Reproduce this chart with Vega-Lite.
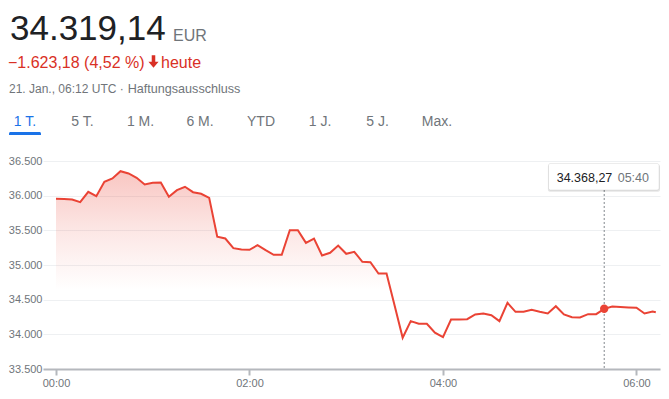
{
  "$schema": "https://vega.github.io/schema/vega-lite/v6.json",
  "width": 617,
  "height": 208,
  "autosize": {"type": "none"},
  "padding": {"left": 43, "top": 161, "right": 9, "bottom": 30},
  "background": "white",
  "config": {
    "locale": {"number": {"decimal": ",", "thousands": ".", "grouping": [3], "currency": ["", " €"]}},
    "view": {"stroke": null},
    "font": "Liberation Sans",
    "axis": {"labelOverlap": false},
    "axisY": {"labelOverlap": false},
    "axisQuantitative": {"labelOverlap": false}
  },
  "datasets": {
    "prices": [
      {"t": "2021-01-21T00:00:00Z", "v": 35955},
      {"t": "2021-01-21T00:05:00Z", "v": 35952},
      {"t": "2021-01-21T00:10:00Z", "v": 35945},
      {"t": "2021-01-21T00:15:00Z", "v": 35906},
      {"t": "2021-01-21T00:20:00Z", "v": 36056},
      {"t": "2021-01-21T00:25:00Z", "v": 35992},
      {"t": "2021-01-21T00:30:00Z", "v": 36200},
      {"t": "2021-01-21T00:35:00Z", "v": 36248},
      {"t": "2021-01-21T00:40:00Z", "v": 36353},
      {"t": "2021-01-21T00:45:00Z", "v": 36320},
      {"t": "2021-01-21T00:50:00Z", "v": 36258},
      {"t": "2021-01-21T00:55:00Z", "v": 36161},
      {"t": "2021-01-21T01:00:00Z", "v": 36186},
      {"t": "2021-01-21T01:05:00Z", "v": 36190},
      {"t": "2021-01-21T01:10:00Z", "v": 35984},
      {"t": "2021-01-21T01:15:00Z", "v": 36079},
      {"t": "2021-01-21T01:20:00Z", "v": 36128},
      {"t": "2021-01-21T01:25:00Z", "v": 36050},
      {"t": "2021-01-21T01:30:00Z", "v": 36027},
      {"t": "2021-01-21T01:35:00Z", "v": 35969},
      {"t": "2021-01-21T01:40:00Z", "v": 35407},
      {"t": "2021-01-21T01:45:00Z", "v": 35382},
      {"t": "2021-01-21T01:50:00Z", "v": 35243},
      {"t": "2021-01-21T01:55:00Z", "v": 35224},
      {"t": "2021-01-21T02:00:00Z", "v": 35219},
      {"t": "2021-01-21T02:05:00Z", "v": 35286},
      {"t": "2021-01-21T02:10:00Z", "v": 35214},
      {"t": "2021-01-21T02:15:00Z", "v": 35147},
      {"t": "2021-01-21T02:20:00Z", "v": 35147},
      {"t": "2021-01-21T02:25:00Z", "v": 35502},
      {"t": "2021-01-21T02:30:00Z", "v": 35502},
      {"t": "2021-01-21T02:35:00Z", "v": 35320},
      {"t": "2021-01-21T02:40:00Z", "v": 35382},
      {"t": "2021-01-21T02:45:00Z", "v": 35137},
      {"t": "2021-01-21T02:50:00Z", "v": 35176},
      {"t": "2021-01-21T02:55:00Z", "v": 35281},
      {"t": "2021-01-21T03:00:00Z", "v": 35162},
      {"t": "2021-01-21T03:05:00Z", "v": 35191},
      {"t": "2021-01-21T03:10:00Z", "v": 35046},
      {"t": "2021-01-21T03:15:00Z", "v": 35041},
      {"t": "2021-01-21T03:20:00Z", "v": 34878},
      {"t": "2021-01-21T03:25:00Z", "v": 34878},
      {"t": "2021-01-21T03:30:00Z", "v": 34416},
      {"t": "2021-01-21T03:35:00Z", "v": 33950},
      {"t": "2021-01-21T03:40:00Z", "v": 34190},
      {"t": "2021-01-21T03:45:00Z", "v": 34152},
      {"t": "2021-01-21T03:50:00Z", "v": 34152},
      {"t": "2021-01-21T03:55:00Z", "v": 34023},
      {"t": "2021-01-21T04:00:00Z", "v": 33959},
      {"t": "2021-01-21T04:05:00Z", "v": 34214},
      {"t": "2021-01-21T04:10:00Z", "v": 34214},
      {"t": "2021-01-21T04:15:00Z", "v": 34219},
      {"t": "2021-01-21T04:20:00Z", "v": 34287},
      {"t": "2021-01-21T04:25:00Z", "v": 34301},
      {"t": "2021-01-21T04:30:00Z", "v": 34276},
      {"t": "2021-01-21T04:35:00Z", "v": 34190},
      {"t": "2021-01-21T04:40:00Z", "v": 34455},
      {"t": "2021-01-21T04:45:00Z", "v": 34325},
      {"t": "2021-01-21T04:50:00Z", "v": 34325},
      {"t": "2021-01-21T04:55:00Z", "v": 34354},
      {"t": "2021-01-21T05:00:00Z", "v": 34325},
      {"t": "2021-01-21T05:05:00Z", "v": 34301},
      {"t": "2021-01-21T05:10:00Z", "v": 34406},
      {"t": "2021-01-21T05:15:00Z", "v": 34287},
      {"t": "2021-01-21T05:20:00Z", "v": 34248},
      {"t": "2021-01-21T05:25:00Z", "v": 34243},
      {"t": "2021-01-21T05:30:00Z", "v": 34291},
      {"t": "2021-01-21T05:35:00Z", "v": 34291},
      {"t": "2021-01-21T05:40:00Z", "v": 34368.27},
      {"t": "2021-01-21T05:45:00Z", "v": 34402},
      {"t": "2021-01-21T05:50:00Z", "v": 34395},
      {"t": "2021-01-21T05:55:00Z", "v": 34388},
      {"t": "2021-01-21T06:00:00Z", "v": 34383},
      {"t": "2021-01-21T06:05:00Z", "v": 34301},
      {"t": "2021-01-21T06:10:00Z", "v": 34330},
      {"t": "2021-01-21T06:12:00Z", "v": 34319.14}
    ]
  },
  "layer": [
    {
      "data": {"name": "prices"},
      "mark": {
        "type": "area",
        "color": {
          "gradient": "linear", "x1": 0, "y1": 0, "x2": 0, "y2": 1,
          "stops": [
            {"offset": 0, "color": "rgba(234,67,53,0.30)"},
            {"offset": 0.3, "color": "rgba(234,67,53,0.13)"},
            {"offset": 0.6, "color": "rgba(234,67,53,0)"}
          ]
        }
      },
      "encoding": {
        "x": {
          "field": "t", "type": "temporal",
          "scale": {"type": "utc", "domain": [
            {"year": 2021, "month": 1, "date": 20, "hours": 23, "minutes": 51, "seconds": 56, "utc": true},
            {"year": 2021, "month": 1, "date": 21, "hours": 6, "minutes": 14, "seconds": 36, "utc": true}
          ]},
          "axis": {
            "title": null, "labelExpr": "utcFormat(datum.value, '%H:%M')",
            "values": [
              {"year": 2021, "month": 1, "date": 21, "hours": 0, "utc": true},
              {"year": 2021, "month": 1, "date": 21, "hours": 2, "utc": true},
              {"year": 2021, "month": 1, "date": 21, "hours": 4, "utc": true},
              {"year": 2021, "month": 1, "date": 21, "hours": 6, "utc": true}
            ],
            "grid": false, "domainColor": "#b5b8bd", "domainWidth": 2,
            "tickColor": "#b5b8bd", "tickWidth": 2, "tickSize": 6,
            "labelColor": "#70757a", "labelFontSize": 11, "labelFont": "Liberation Sans",
            "labelPadding": 2, "labelFlush": false, "labelOverlap": false
          }
        },
        "y": {
          "field": "v", "type": "quantitative",
          "scale": {"domain": [33500, 36500], "zero": false, "nice": false},
          "axis": {
            "title": null, "values": [33500, 34000, 34500, 35000, 35500, 36000, 36500],
            "tickCount": 7,
            "format": ",.0f", "domain": false, "ticks": false, "grid": true,
            "gridColor": "#eef0f2", "gridWidth": 1, "labelOverlap": false, "labelBound": false,
            "labelColor": "#70757a", "labelFontSize": 11, "labelFont": "Liberation Sans", "labelPadding": 1
          }
        },
        "y2": {"datum": 33500}
      }
    },
    {
      "data": {"name": "prices"},
      "transform": [{"filter": "utchours(datum.t) == 5 && utcminutes(datum.t) == 40"}],
      "mark": {"type": "rule", "color": "#80868b", "strokeWidth": 1, "strokeDash": [2, 2]},
      "encoding": {
        "x": {"field": "t", "type": "temporal"},
        "y": {"datum": 36082},
        "y2": {"datum": 33500}
      }
    },
    {
      "data": {"name": "prices"},
      "mark": {"type": "line", "color": "#ea4335", "strokeWidth": 2},
      "encoding": {
        "x": {"field": "t", "type": "temporal"},
        "y": {"field": "v", "type": "quantitative"}
      }
    },
    {
      "data": {"name": "prices"},
      "transform": [{"filter": "utchours(datum.t) == 5 && utcminutes(datum.t) == 40"}],
      "mark": {"type": "point", "filled": true, "color": "#ea4335", "size": 70, "opacity": 1},
      "encoding": {
        "x": {"field": "t", "type": "temporal"},
        "y": {"field": "v", "type": "quantitative"}
      }
    },
    {
      "data": {"name": "prices"},
      "transform": [{"filter": "utchours(datum.t) == 5 && utcminutes(datum.t) == 40"}],
      "mark": {"type": "rect", "color": "rgba(0,0,0,0.10)", "cornerRadius": 2},
      "encoding": {
        "x": {"datum": {"year": 2021, "month": 1, "date": 21, "hours": 5, "minutes": 5, "seconds": 5, "utc": true}},
        "x2": {"datum": {"year": 2021, "month": 1, "date": 21, "hours": 6, "minutes": 14, "seconds": 35, "utc": true}},
        "y": {"datum": 36446},
        "y2": {"datum": 36058}
      }
    },
    {
      "data": {"name": "prices"},
      "transform": [{"filter": "utchours(datum.t) == 5 && utcminutes(datum.t) == 40"}],
      "mark": {"type": "rect", "color": "white", "stroke": "rgba(0,0,0,0.08)", "strokeWidth": 1, "cornerRadius": 2},
      "encoding": {
        "x": {"datum": {"year": 2021, "month": 1, "date": 21, "hours": 5, "minutes": 5, "seconds": 26, "utc": true}},
        "x2": {"datum": {"year": 2021, "month": 1, "date": 21, "hours": 6, "minutes": 14, "seconds": 0, "utc": true}},
        "y": {"datum": 36464},
        "y2": {"datum": 36082}
      }
    },
    {
      "data": {"name": "prices"},
      "transform": [{"filter": "utchours(datum.t) == 5 && utcminutes(datum.t) == 40"}],
      "mark": {"type": "text", "align": "left", "baseline": "alphabetic", "dx": -47.5, "fontSize": 12.5, "color": "#202124", "font": "Liberation Sans"},
      "encoding": {
        "x": {"field": "t", "type": "temporal"},
        "y": {"datum": 36194},
        "text": {"field": "v", "type": "quantitative", "format": ",.2f"}
      }
    },
    {
      "data": {"name": "prices"},
      "transform": [{"filter": "utchours(datum.t) == 5 && utcminutes(datum.t) == 40"}],
      "mark": {"type": "text", "align": "left", "baseline": "alphabetic", "dx": 13.5, "fontSize": 12.5, "color": "#70757a", "font": "Liberation Sans"},
      "encoding": {
        "x": {"field": "t", "type": "temporal"},
        "y": {"datum": 36194},
        "text": {"field": "t", "type": "temporal", "timeUnit": "utchoursminutes", "format": "%H:%M"}
      }
    },
    {"data": {"values": [{}]}, "mark": {"type": "text", "text": "34.319,14", "x": -33, "y": -121, "align": "left", "baseline": "alphabetic", "fontSize": 35, "color": "#202124"}, "encoding": {}},
    {"data": {"values": [{}]}, "mark": {"type": "text", "text": "EUR", "x": 130, "y": -120.5, "align": "left", "baseline": "alphabetic", "fontSize": 16, "color": "#70757a"}, "encoding": {}},
    {"data": {"values": [{}]}, "mark": {"type": "text", "text": "−1.623,18 (4,52 %)", "x": -35, "y": -93.3, "align": "left", "baseline": "alphabetic", "fontSize": 16, "color": "#d93025"}, "encoding": {}},
    {"data": {"values": [{}]}, "mark": {"type": "point", "shape": "M-0.28,-1 L0.28,-1 L0.28,0.05 L0.8,0.05 L0,1 L-0.8,0.05 L-0.28,0.05 Z", "x": 110.5, "y": -99.5, "size": 160, "filled": true, "color": "#d93025", "opacity": 1}, "encoding": {}},
    {"data": {"values": [{}]}, "mark": {"type": "text", "text": "heute", "x": 118, "y": -93.3, "align": "left", "baseline": "alphabetic", "fontSize": 16, "color": "#d93025"}, "encoding": {}},
    {"data": {"values": [{}]}, "mark": {"type": "text", "text": "21. Jan., 06:12 UTC ·", "x": -34, "y": -67.7, "align": "left", "baseline": "alphabetic", "fontSize": 12, "color": "#70757a"}, "encoding": {}},
    {"data": {"values": [{}]}, "mark": {"type": "text", "text": "Haftungsausschluss", "x": 84.7, "y": -67.7, "align": "left", "baseline": "alphabetic", "fontSize": 12.6, "color": "#70757a"}, "encoding": {}},
    {"data": {"values": [{}]}, "mark": {"type": "rule", "x": 84.7, "x2": 198, "y": -65.5, "y2": -65.5, "color": "#70757a", "strokeWidth": 1}, "encoding": {}},
    {"data": {"values": [{}]}, "mark": {"type": "text", "text": "1 T.", "x": -18, "y": -35, "align": "center", "baseline": "alphabetic", "fontSize": 14, "color": "#1a73e8"}, "encoding": {}},
    {"data": {"values": [{}]}, "mark": {"type": "text", "text": "5 T.", "x": 39.5, "y": -35, "align": "center", "baseline": "alphabetic", "fontSize": 14, "color": "#70757a"}, "encoding": {}},
    {"data": {"values": [{}]}, "mark": {"type": "text", "text": "1 M.", "x": 97.5, "y": -35, "align": "center", "baseline": "alphabetic", "fontSize": 14, "color": "#70757a"}, "encoding": {}},
    {"data": {"values": [{}]}, "mark": {"type": "text", "text": "6 M.", "x": 157, "y": -35, "align": "center", "baseline": "alphabetic", "fontSize": 14, "color": "#70757a"}, "encoding": {}},
    {"data": {"values": [{}]}, "mark": {"type": "text", "text": "YTD", "x": 218, "y": -35, "align": "center", "baseline": "alphabetic", "fontSize": 14, "color": "#70757a"}, "encoding": {}},
    {"data": {"values": [{}]}, "mark": {"type": "text", "text": "1 J.", "x": 277, "y": -35, "align": "center", "baseline": "alphabetic", "fontSize": 14, "color": "#70757a"}, "encoding": {}},
    {"data": {"values": [{}]}, "mark": {"type": "text", "text": "5 J.", "x": 334.5, "y": -35, "align": "center", "baseline": "alphabetic", "fontSize": 14, "color": "#70757a"}, "encoding": {}},
    {"data": {"values": [{}]}, "mark": {"type": "text", "text": "Max.", "x": 394, "y": -35, "align": "center", "baseline": "alphabetic", "fontSize": 14, "color": "#70757a"}, "encoding": {}},
    {"data": {"values": [{}]}, "mark": {"type": "rule", "x": 10, "x2": 10, "y": -52, "y2": -30, "color": "#dadce0", "strokeWidth": 1}, "encoding": {}},
    {"data": {"values": [{}]}, "mark": {"type": "rule", "x": 68, "x2": 68, "y": -52, "y2": -30, "color": "#dadce0", "strokeWidth": 1}, "encoding": {}},
    {"data": {"values": [{}]}, "mark": {"type": "rule", "x": 128, "x2": 128, "y": -52, "y2": -30, "color": "#dadce0", "strokeWidth": 1}, "encoding": {}},
    {"data": {"values": [{}]}, "mark": {"type": "rule", "x": 188, "x2": 188, "y": -52, "y2": -30, "color": "#dadce0", "strokeWidth": 1}, "encoding": {}},
    {"data": {"values": [{}]}, "mark": {"type": "rule", "x": 249, "x2": 249, "y": -52, "y2": -30, "color": "#dadce0", "strokeWidth": 1}, "encoding": {}},
    {"data": {"values": [{}]}, "mark": {"type": "rule", "x": 305, "x2": 305, "y": -52, "y2": -30, "color": "#dadce0", "strokeWidth": 1}, "encoding": {}},
    {"data": {"values": [{}]}, "mark": {"type": "rule", "x": 363, "x2": 363, "y": -52, "y2": -30, "color": "#dadce0", "strokeWidth": 1}, "encoding": {}},
    {"data": {"values": [{}]}, "mark": {"type": "rect", "x": -34, "x2": -2, "y": -29, "y2": -26, "color": "#1a73e8", "cornerRadiusTopLeft": 3, "cornerRadiusTopRight": 3}, "encoding": {}}
  ]
}
